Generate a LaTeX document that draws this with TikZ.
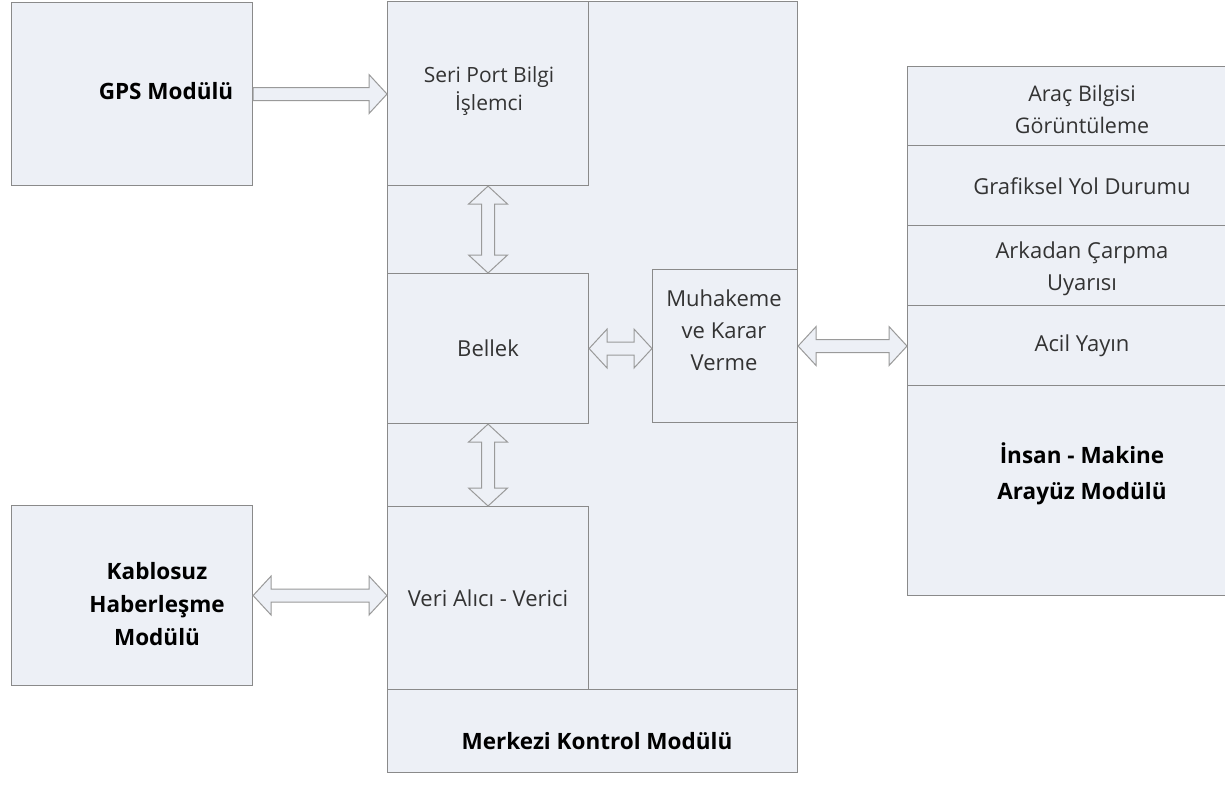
\documentclass[tikz,border=0pt]{standalone}
\usepackage{fontspec}
\setmainfont{Open Sans}
\usetikzlibrary{calc}

\definecolor{dolgu}{HTML}{EDF0F6}
\definecolor{kenar}{HTML}{8A8A8A}
\definecolor{okkenar}{HTML}{9A9A9A}
\definecolor{metin}{HTML}{333333}

% block arrows between two anchors
\newcommand{\tekyatay}[2]{%
  \draw[Ok] let \p1=(#1), \p2=(#2) in
    (\x1,\y1+6.5pt) -- (\x2-18pt,\y1+6.5pt) -- (\x2-18pt,\y1+19.5pt) -- (\x2,\y1)
    -- (\x2-18pt,\y1-19.5pt) -- (\x2-18pt,\y1-6.5pt) -- (\x1,\y1-6.5pt) -- cycle;}
\newcommand{\ciftyatay}[2]{%
  \draw[Ok] let \p1=(#1), \p2=(#2) in
    (\x1,\y1) -- (\x1+18pt,\y1+19.5pt) -- (\x1+18pt,\y1+6.5pt) -- (\x2-18pt,\y1+6.5pt)
    -- (\x2-18pt,\y1+19.5pt) -- (\x2,\y1) -- (\x2-18pt,\y1-19.5pt) -- (\x2-18pt,\y1-6.5pt)
    -- (\x1+18pt,\y1-6.5pt) -- (\x1+18pt,\y1-19.5pt) -- cycle;}
\newcommand{\ciftdikey}[2]{%
  \draw[Ok] let \p1=(#1), \p2=(#2) in
    (\x1,\y1) -- (\x1+19.5pt,\y1-18pt) -- (\x1+6.5pt,\y1-18pt) -- (\x1+6.5pt,\y2+18pt)
    -- (\x1+19.5pt,\y2+18pt) -- (\x1,\y2) -- (\x1-19.5pt,\y2+18pt) -- (\x1-6.5pt,\y2+18pt)
    -- (\x1-6.5pt,\y1-18pt) -- (\x1-19.5pt,\y1-18pt) -- cycle;}

\tikzset{
  Kutu/.style={draw=kenar, fill=dolgu, line width=1.1pt, inner sep=0pt, anchor=north west},
  Yazi/.style={font=\fontsize{22}{32}\selectfont, align=center, text=metin},
  Kalin/.style={font=\fontsize{22.5}{33}\selectfont\bfseries, align=center, text=black},
  Ok/.style={draw=okkenar, fill=dolgu, line width=1pt, line join=miter}
}

\begin{document}
\begin{tikzpicture}[x=1pt, y=-1pt]
\useasboundingbox (0,0) rectangle (1225,789);
\fill[white] (0,0) rectangle (1225,789);
\clip (0,0) rectangle (1225,789);

% left modules
\node[Kutu, minimum width=241pt, minimum height=183pt] (gps) at (11,2) {};
\node[Kalin] (gpsyazi) at (166,91) {GPS Modülü};
\node[Kutu, minimum width=241pt, minimum height=180pt] (kablosuz) at (11,505) {};
\node[Kalin] (kablosuzyazi) at (157,604) {Kablosuz\\Haberleşme\\Modülü};

% central control module
\node[Kutu, minimum width=410pt, minimum height=771pt] (merkez) at (387,1) {};
\node[Kutu, minimum width=410pt, minimum height=83pt] (merkezalt) at (387,689) {};
\node[Kalin] (merkeziyazi) at (597,741) {Merkezi Kontrol Modülü};
\node[Kutu, minimum width=201pt, minimum height=184pt] (seri) at (387,1) {};
\node[Yazi, font=\fontsize{21}{28}\selectfont] (seriyazi) at (489,91) {Seri Port Bilgi\\İşlemci};
\node[Kutu, Yazi, minimum width=201pt, minimum height=150pt] (bellek) at (387,273) {Bellek};
\node[Kutu, Yazi, minimum width=201pt, minimum height=183pt] (veri) at (387,506) {Veri Alıcı - Verici};
\node[Kutu, minimum width=145pt, minimum height=153pt] (muhakeme) at (652,269) {};
\node[Yazi] (muhakemeyazi) at (724,330) {Muhakeme\\ve Karar\\Verme};

% human-machine interface module
\node[Kutu, minimum width=360pt, minimum height=529pt] (arayuz) at (907,66) {};
\node[Kutu, minimum width=360pt, minimum height=79pt] (arac) at (907,66) {};
\node[Yazi, font=\fontsize{21.5}{32}\selectfont] (aracyazi) at (1082,109) {Araç Bilgisi\\Görüntüleme};
\node[Kutu, minimum width=360pt, minimum height=80pt] (grafik) at (907,145) {};
\node[Yazi] (grafikyazi) at (1082,186) {Grafiksel Yol Durumu};
\node[Kutu, minimum width=360pt, minimum height=80pt] (arkadan) at (907,225) {};
\node[Yazi] (arkadanyazi) at (1082,269) {Arkadan Çarpma\\Uyarısı};
\node[Kutu, minimum width=360pt, minimum height=80pt] (acil) at (907,305) {};
\node[Yazi] (acilyazi) at (1082,346) {Acil Yayın};
\node[Kalin, font=\fontsize{22.5}{36}\selectfont\bfseries] (insanyazi) at (1082,474) {İnsan - Makine\\Arayüz Modülü};

% connectors
\tekyatay{gps.east}{seri.west |- gps.east}
\ciftdikey{seri.south}{bellek.north}
\ciftdikey{bellek.south}{veri.north}
\ciftyatay{bellek.east}{muhakeme.west |- bellek.east}
\ciftyatay{muhakeme.east}{arayuz.west |- muhakeme.east}
\ciftyatay{kablosuz.east}{veri.west |- kablosuz.east}
\end{tikzpicture}
\end{document}
